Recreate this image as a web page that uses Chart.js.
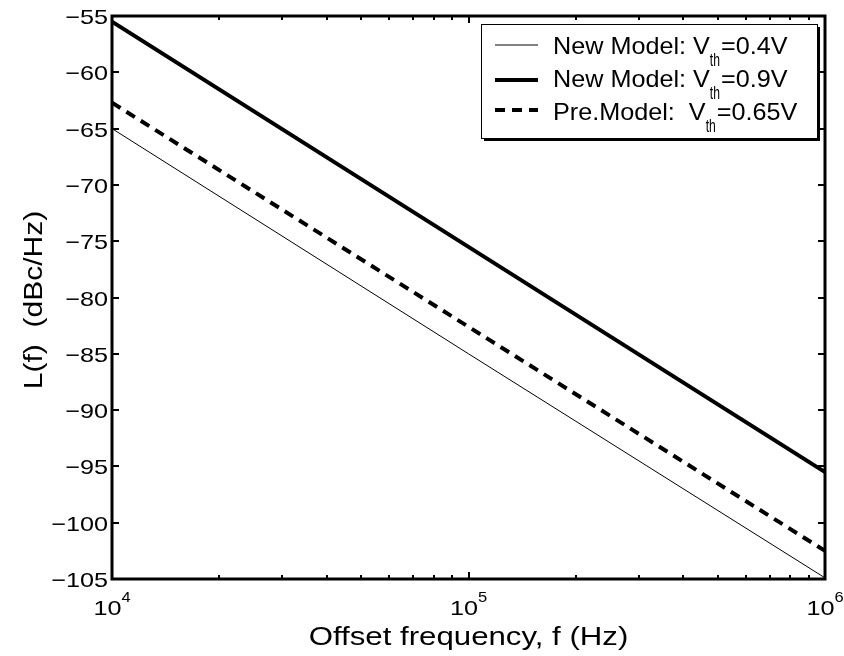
<!DOCTYPE html>
<html>
<head>
<meta charset="utf-8">
<script src="https://cdn.jsdelivr.net/npm/chart.js@4.4.1/dist/chart.umd.min.js"></script>
<style>
  html, body { margin: 0; padding: 0; background: #fff; }
  #wrap { width: 844px; height: 656px; position: relative; }
</style>
</head>
<body>
<div id="wrap"><canvas id="myChart" width="844" height="656"></canvas></div>
<script>
// data (dBc/Hz vs offset frequency in Hz)
const freqs = [1e4, 1e5, 1e6];
const newModel04 = [-65.0, -85.0, -104.9];
const newModel09 = [-55.5, -75.5, -95.5];
const preModel065 = [-62.7, -82.6, -102.5];

const yTicks = [-55, -60, -65, -70, -75, -80, -85, -90, -95, -100, -105];
const xTicks = [1e4, 1e5, 1e6];
const xTickExp = ['4', '5', '6'];
const xMinor = [2e4, 3e4, 4e4, 5e4, 6e4, 7e4, 8e4, 9e4, 2e5, 3e5, 4e5, 5e5, 6e5, 7e5, 8e5, 9e5];

const legendRows = [
    { pre: 'New Model: V', sub: 'th', post: '=0.4V' },
    { pre: 'New Model: V', sub: 'th', post: '=0.9V' },
    { pre: 'Pre.Model:  V', sub: 'th', post: '=0.65V' },
];

const FONT = '"Liberation Sans", Arial, Helvetica, sans-serif';

function toPts(ys) {
    return freqs.map((f, i) => ({ x: f, y: ys[i] }));
}

// draw text, stretched by sx along its direction (original lettering is wide)
function txt(ctx, s, x, y, size, sx, align, rot) {
    ctx.save();
    ctx.translate(x, y);
    if (rot) ctx.rotate(rot);
    ctx.scale(sx, 1);
    ctx.font = size + 'px ' + FONT;
    ctx.textAlign = align || 'left';
    ctx.textBaseline = 'alphabetic';
    ctx.fillStyle = '#000';
    ctx.fillText(s, 0, 0);
    ctx.restore();
}
function tw(ctx, s, size, sx) {
    ctx.save();
    ctx.font = size + 'px ' + FONT;
    const w = ctx.measureText(s).width * sx;
    ctx.restore();
    return w;
}

const frame = {
    id: 'frame',
    afterDraw(chart) {
        const ctx = chart.ctx;
        const a = chart.chartArea;
        const xs = chart.scales.x, ys = chart.scales.y;
        ctx.save();
        ctx.strokeStyle = '#000';

        // ticks (inward, all four sides)
        ctx.lineWidth = 2;
        ctx.beginPath();
        yTicks.forEach(v => {
            const p = Math.round(ys.getPixelForValue(v));
            ctx.moveTo(a.left, p); ctx.lineTo(a.left + 7, p);
            ctx.moveTo(a.right, p); ctx.lineTo(a.right - 7, p);
        });
        xTicks.forEach(v => {
            const p = Math.round(xs.getPixelForValue(v));
            ctx.moveTo(p, a.bottom); ctx.lineTo(p, a.bottom - 7);
            ctx.moveTo(p, a.top); ctx.lineTo(p, a.top + 7);
        });
        xMinor.forEach(v => {
            const p = Math.round(xs.getPixelForValue(v));
            ctx.moveTo(p, a.bottom); ctx.lineTo(p, a.bottom - 4);
            ctx.moveTo(p, a.top); ctx.lineTo(p, a.top + 4);
        });
        ctx.stroke();

        // box
        ctx.lineWidth = 3;
        ctx.strokeRect(a.left, a.top, a.right - a.left, a.bottom - a.top);

        // y tick labels
        yTicks.forEach(v => {
            const p = ys.getPixelForValue(v);
            txt(ctx, '\u2212' + Math.abs(v), a.left - 4, p + 8, 21, 1.2, 'right');
        });

        // x tick labels 10^n
        xTicks.forEach((v, i) => {
            const p = xs.getPixelForValue(v);
            const wb = tw(ctx, '10', 21, 1.2), we = tw(ctx, xTickExp[i], 15, 1.1);
            const x0 = p - (wb + we) / 2;
            txt(ctx, '10', x0, a.bottom + 36, 21, 1.2, 'left');
            txt(ctx, xTickExp[i], x0 + wb, a.bottom + 23, 15, 1.1, 'left');
        });

        // axis titles
        txt(ctx, 'Offset frequency, f (Hz)', (a.left + a.right) / 2, 645, 26, 1.2, 'center');
        txt(ctx, 'L(f)  (dBc/Hz)', 42, 300, 25, 1.2, 'center', -Math.PI / 2);

        // legend
        const L = { x: 481, y: 24, w: 336, h: 114 };
        ctx.fillStyle = '#fff';
        ctx.fillRect(L.x, L.y, L.w, L.h);
        ctx.lineWidth = 1;
        ctx.strokeStyle = '#000';
        ctx.strokeRect(L.x + 0.5, L.y + 0.5, L.w, L.h);
        ctx.lineWidth = 2;
        ctx.beginPath();
        ctx.moveTo(L.x + L.w + 2, L.y + 3); ctx.lineTo(L.x + L.w + 2, L.y + L.h + 2); ctx.lineTo(L.x + 3, L.y + L.h + 2);
        ctx.stroke();

        const lineY = [45, 80, 110];
        const baseY = [54, 87, 120];
        chart.data.datasets.forEach((ds, i) => {
            ctx.save();
            ctx.strokeStyle = ds.borderColor;
            ctx.lineWidth = ds.borderWidth;
            ctx.setLineDash(ds.borderDash || []);
            ctx.beginPath();
            ctx.moveTo(495, lineY[i]); ctx.lineTo(538, lineY[i]);
            ctx.stroke();
            ctx.restore();
            const r = legendRows[i];
            let x = 553;
            txt(ctx, r.pre, x, baseY[i], 24, 1.05, 'left');
            x += tw(ctx, r.pre, 24, 1.05);
            txt(ctx, r.sub, x, baseY[i] + 12, 19, 0.64, 'left');
            x += tw(ctx, r.sub, 19, 0.64) + 1;
            txt(ctx, r.post, x, baseY[i], 24, 1.05, 'left');
        });
        ctx.restore();
    }
};

const config = {
    type: 'line',
    data: {
        datasets: [
            { label: 'New Model: Vth=0.4V', data: toPts(newModel04), borderColor: '#000', borderWidth: 1, pointRadius: 0 },
            { label: 'New Model: Vth=0.9V', data: toPts(newModel09), borderColor: '#000', borderWidth: 4, pointRadius: 0 },
            { label: 'Pre.Model: Vth=0.65V', data: toPts(preModel065), borderColor: '#000', borderWidth: 4, borderDash: [10, 7], pointRadius: 0 },
        ],
    },
    options: {
        responsive: false,
        animation: false,
        layout: { padding: { left: 112, right: 19, top: 16, bottom: 77 } },
        plugins: { legend: false, tooltip: false },
        scales: {
            x: { type: 'logarithmic', min: 1e4, max: 1e6, display: false },
            y: { type: 'linear', min: -105, max: -55, display: false },
        },
    },
    plugins: [frame],
};

new Chart(document.getElementById('myChart'), config);
</script>
</body>
</html>
